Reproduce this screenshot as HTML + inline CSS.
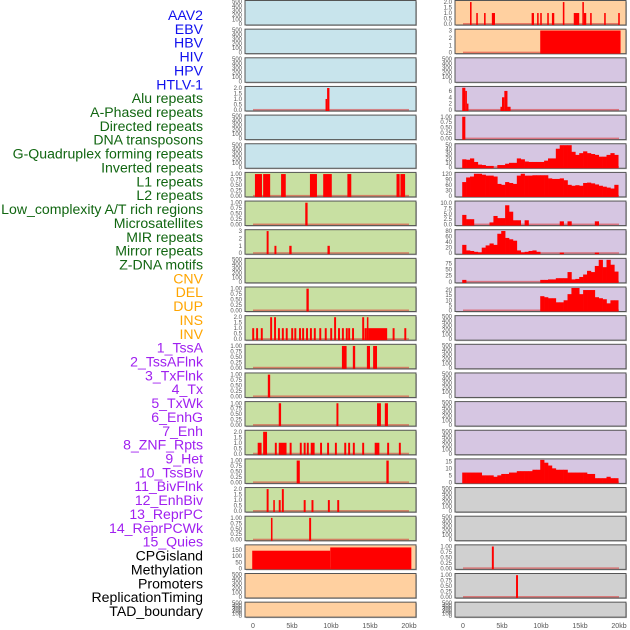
<!DOCTYPE html>
<html><head><meta charset="utf-8"><style>
body{margin:0;background:#fff;width:630px;height:630px;overflow:hidden}
svg{display:block;font-family:"Liberation Sans",sans-serif}
</style></head><body>
<svg id="c" width="630" height="630" viewBox="0 0 630 630"></svg>
<script>
const labels=["AAV2","EBV","HBV","HIV","HPV","HTLV-1","Alu repeats","A-Phased repeats","Directed repeats","DNA transposons","G-Quadruplex forming repeats","Inverted repeats","L1 repeats","L2 repeats","Low_complexity A/T rich regions","Microsatellites","MIR repeats","Mirror repeats","Z-DNA motifs","CNV","DEL","DUP","INS","INV","1_TssA","2_TssAFlnk","3_TxFlnk","4_Tx","5_TxWk","6_EnhG","7_Enh","8_ZNF_Rpts","9_Het","10_TssBiv","11_BivFlnk","12_EnhBiv","13_ReprPC","14_ReprPCWk","15_Quies","CPGisland","Methylation","Promoters","ReplicationTiming","TAD_boundary"];
const labelColors=["#1010ee","#1010ee","#1010ee","#1010ee","#1010ee","#1010ee","#116611","#116611","#116611","#116611","#116611","#116611","#116611","#116611","#116611","#116611","#116611","#116611","#116611","#ffa500","#ffa500","#ffa500","#ffa500","#ffa500","#a020f0","#a020f0","#a020f0","#a020f0","#a020f0","#a020f0","#a020f0","#a020f0","#a020f0","#a020f0","#a020f0","#a020f0","#a020f0","#a020f0","#a020f0","#000","#000","#000","#000","#000"];
const leftBg=["b","b","b","b","b","b","g","g","g","g","g","g","g","g","g","g","g","g","g","o","o","o"];
const rightBg=["o","o","p","p","p","p","p","p","p","p","p","p","p","p","p","p","p","x","x","x","x","x"];
const xTickVals=[0,5,10,15,20];
const xTickLabels=["0","5kb","10kb","15kb","20kb"];
const T500=[0,100,200,300,400,500],T1=[0,0.25,0.5,0.75,1],T2=[0,0.5,1,1.5,2];
const L1=["0.00","0.25","0.50","0.75","1.00"],L2=["0.0","0.5","1.0","1.5","2.0"];
const leftStarts={3:[9.3,9.5],6:[0.25,1.3,3.6,7.3,9.0,12.1,18.4,18.9],7:[6.7],8:[1.75,2.75,4.65,9.55],10:[6.85],
11:[-0.1,0.4,1.0,2.2,2.7,3.2,3.7,4.2,4.9,5.3,5.9,6.3,6.8,7.3,7.8,8.5,9.2,9.9,10.4,10.9,11.4,11.9,12.2,12.7,14.0,14.3,14.6,14.8,17.9,19.4],
12:[11.4,12.8,14.6,15.4],13:[1.9],14:[3.3,10.7,15.9,16.9],
15:[0.6,1.3,2.8,3.3,4.7,6.0,6.5,6.9,7.4,8.6,9.5,10.5,11.7,12.2,12.8,14.0,15.6,17.2,18.7],
16:[5.6,17.1],17:[1.75,2.6,3.3,3.7,6.5,7.5,9.6,10.8],18:[2.3,7.2],19:[-0.1,9.9]};
const leftEnds={3:[9.5,9.8],6:[1.15,2.2,4.2,8.2,10.1,12.6,18.8,19.5],7:[7.0],8:[2.0,3.0,4.95,9.85],10:[7.15],
11:[0.15,0.65,1.25,2.45,2.95,3.45,3.95,4.45,5.15,5.55,6.15,6.55,7.05,7.55,8.05,8.75,9.45,10.15,10.65,11.15,11.65,12.15,12.45,12.95,14.25,14.6,14.8,17.2,18.15,19.65],
12:[12.0,13.1,15.0,15.9],13:[2.2],14:[3.6,10.95,16.4,17.3],
15:[1.1,1.8,3.05,4.3,4.95,6.25,6.75,7.15,7.9,8.85,9.75,10.75,11.95,12.45,13.05,14.25,16.2,17.45,18.95],
16:[6.0,17.4],17:[2.0,2.8,3.55,3.95,6.75,7.75,9.85,11.05],18:[2.5,7.45],19:[9.9,20.3]};
const leftVals={3:[1,2],6:[1,1,1,1,1,1,1,1],7:[1],8:[3,1,1,1],10:[1],
11:[1,1,1,2,2,1,1,1,1,1,1,1,1,1,1,1,1,1,2,1,1,1,1,1,2,1,2,1,1,1],
12:[1,1,1,1],13:[1],14:[1,1,1,1],15:[1,2,1,1,1,1,1,1,1,1,1,1,1,1,1,1,1,1,1],
16:[1,1],17:[2,1,1,2,1,1,1,1],18:[1,1],19:[145,172]};
const rightStarts={0:[0.9,1.7,2.7,3.7,8.8,9.5,9.9,10.8,11.4,12.8,14.2,15.3,15.5,16.3,18.1,19.9],1:[9.9],3:[-0.1,0.3,0.5,4.8,5.0,5.3,5.7],4:[-0.1],19:[3.7],20:[6.8]};
const rightEnds={0:[1.1,1.9,2.9,4.1,9.1,9.7,10.1,11.0,11.7,13.0,14.9,15.5,15.8,16.5,18.3,20.1],1:[20.2],3:[0.3,0.5,0.7,5.0,5.3,5.7,6.1],4:[0.3],19:[3.95],20:[7.05]};
const rightVals={0:[2,1,1,1,1,1,1,1,1,2,1,2,1,1,1,1],1:[3],3:[7,6,2,1,4,6,1],4:[1],19:[1],20:[1]};
const gquadVals=[18,17,20,12,6,5,3,3,0,5,5,8,10,10,20,18,13,12,12,12,12,15,20,20,42,50,50,50,35,28,32,36,32,30,28,24,24,28,32,28];
const invertedVals=[75,100,105,120,120,115,110,110,105,65,60,75,70,65,110,120,110,110,112,112,112,112,95,92,92,95,85,60,55,58,55,70,72,68,62,55,50,45,40,60];
const l1Vals=[4.5,2.5,2.5,0,0,0,0,1,4,3,3,9,6,2,2,0,2,0,0,0,0,0,0,0,0,1.5,0,1.5,0,0,0,0,0,0,1.5,0,0,0,0,0];
const lowcVals=[30,10,8,5,3,20,28,35,30,70,80,55,50,45,10,3,5,8,10,5,0,0,0,0,0,2,0,0,0,0,0,0,0,0,2,0,0,0,0,0];
const microVals=[8,0,0,0,0,0,0,0,0,0,0,0,0,0,0,0,0,0,0,0,8,8,10,10,15,15,15,40,10,12,20,30,45,40,65,90,60,90,70,42];
const mirrorVals=[0,0,0,0,0,0,0,0,0,0,0,0,0,0,0,0,0,0,0,0,14,13,12,12,8,8,10,16,22,22,16,20,20,20,13,12,11,7,10,10];
const hetVals=[7,7,7,7,7,5,5,5,4,5,6,6,7,7,8,8,8,8,9,9,16,14,12,10,9,9,9,7,7,7,7,7,6,6,3,3,3,4,3,3];
const rightBins={5:gquadVals,6:invertedVals,7:l1Vals,8:lowcVals,9:microVals,10:mirrorVals,16:hetVals};
const leftTicks={3:[T2,L2,2.05],6:[T1,L1,1.03],7:[T1,L1,1.03],8:[[0,1,2,3],["0","1","2","3"],3.05],10:[T1,L1,1.03],11:[T2,L2,2.05],12:[T1,L1,1.03],13:[T1,L1,1.03],14:[T1,L1,1.03],15:[T2,L2,2.05],16:[T1,L1,1.03],17:[T2,L2,2.05],18:[T1,L1,1.03],19:[[0,50,100,150],["0","50","100","150"],185]};
const rightTicks={0:[T2,L2,2.05],1:[[0,1,2,3],["0","1","2","3"],3.05],3:[[0,2,4,6],["0","2","4","6"],7.1],4:[T1,L1,1.03],5:[[0,10,20,30,40,50],["0","10","20","30","40","50"],51],6:[[0,30,60,90,120],["0","30","60","90","120"],122],7:[[0,2.5,5,7.5,10],["0.0","2.5","5.0","7.5","10.0"],10.5],8:[[0,20,40,60,80],["0","20","40","60","80"],81],9:[[0,25,50,75],["0","25","50","75"],92],10:[[0,5,10,15,20],["0","5","10","15","20"],22],16:[[0,5,10,15],["0","5","10","15"],16],19:[T1,L1,1.03],20:[T1,L1,1.03]};
const rowTops=[];for(let r=0;r<22;r++)rowTops.push(0.5+r*28.65);
const bgCol={b:"#c8e4ec",g:"#c8e0a2",o:"#ffd0a0",p:"#d6c6e2",x:"#d0d0d0"};
const svg=document.getElementById('c');const NS="http://www.w3.org/2000/svg";
function mk(t,a,p){const e=document.createElementNS(NS,t);for(const k in a)e.setAttribute(k,a[k]);(p||svg).appendChild(e);return e;}
labels.forEach((s,i)=>{const t=mk('text',{x:203,y:15+i*13.86+5,'text-anchor':'end','font-size':14.1,fill:labelColors[i]});


t.textContent=s;});
function panel(col,r){
 const x0=col?455:245,w=171,top=rowTops[r],h=r==21?15:24.5,bot=top+h;
 const x0kb=col?463:253,kbpx=7.8;const xs=kb=>x0kb+kb*kbpx;
 const g=mk('g',{});
 
 
 mk('rect',{x:x0+1,y:top+1,width:w,height:h,fill:'#bbb'},g);
 mk('rect',{x:x0,y:top,width:w,height:h,fill:bgCol[(col?rightBg:leftBg)[r]],stroke:'#555','stroke-width':1},g);
 const tk=(col?rightTicks:leftTicks)[r]||[T500,T500.map(String),500];
 const max=tk[2];const ys=v=>bot-1-v/max*(h-2);
 tk[0].forEach((v,i)=>{const t=mk('text',{x:x0-3,y:ys(v)+2,'text-anchor':'end','font-size':6,fill:'#555'},g);
  
  
  t.textContent=tk[1][i];});
 const hasData=(col?rightStarts:leftStarts)[r]||(col&&rightBins[r]);
 if(hasData)mk('rect',{x:xs(0),y:bot-2,width:xs(20)-xs(0),height:1.5,fill:'rgba(220,50,50,0.55)'},g);
 const st=(col?rightStarts:leftStarts)[r];
 if(st){const en=(col?rightEnds:leftEnds)[r],vl=(col?rightVals:leftVals)[r];
  st.forEach((s,i)=>{const a=xs(s),b=Math.max(xs(en[i]),a+1.5);const y=ys(vl[i]);
   const e=mk('rect',{x:a,y:y,width:b-a,height:bot-y,fill:'#ff0000'},g);
   
   });}
 const bins=col&&rightBins[r];
 if(bins){bins.forEach((v,i)=>{if(!v)return;const a=xs(-0.1+i*0.5),b=xs(-0.1+(i+1)*0.5);const y=ys(v);
   const e=mk('rect',{x:a,y:y,width:b-a+0.3,height:bot-y,fill:'#ff0000'},g);
   
   });}
}
for(let r=0;r<22;r++){panel(0,r);panel(1,r);}
[0,1].forEach(col=>{xTickVals.forEach((v,i)=>{const t=mk('text',{x:(col?463:253)+v*7.8,y:628,'text-anchor':'middle','font-size':7,fill:'#555'});
 
 
 t.textContent=xTickLabels[i];});});
</script></body></html>
